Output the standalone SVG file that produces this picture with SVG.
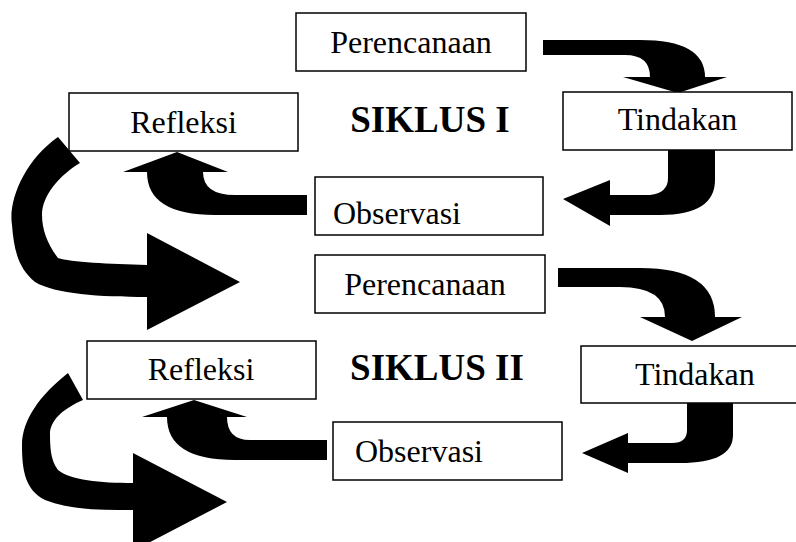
<svg xmlns="http://www.w3.org/2000/svg" width="796" height="542" viewBox="0 0 796 542">
<style>
.box{fill:#fff;stroke:#000;stroke-width:1.5}
.t{font-family:"Liberation Serif","Times New Roman",serif;font-size:32px;fill:#000}
.c{text-anchor:middle}
.h{font-family:"Liberation Serif","Times New Roman",serif;font-size:37px;font-weight:bold;fill:#000;text-anchor:middle}
.arr{fill:#000;stroke:none}
</style>
<rect width="796" height="542" fill="#fff"/>
<g id="connectors">
<path class="arr" d="M543,40 L640,40 Q705,40 705,77 L727,77 L678,93 L623,77 L650,77 Q650,55 625,55 L543,55 Z"/>
<path class="arr" d="M668,150 L715,150 L715,180 Q715,215 660,215 L610,215 L610,226 L563,199 L610,180 L610,195 L650,195 Q668,193 668,178 Z"/>
<path class="arr" d="M307,195 L235,195 Q203,195 203,172 L228,172 L177,152 L123,172 L147,172 Q147,215 215,215 L307,215 Z"/>
<path class="arr" d="M58,137 C25,160 8,200 12,225 C14,250 18,268 35,282 C55,294 100,297 147,297 L147,330 L240,282 L147,233 L147,265 C110,264 70,262 58,258 C48,245 42,230 42,215 C42,195 60,175 80,163 Z"/>
<path class="arr" d="M558,268 L640,268 Q715,268 715,317 L742,317 L692,341 L640,317 L665,317 Q665,287 620,287 L558,287 Z"/>
<path class="arr" d="M687,403 L733,403 L733,435 Q733,463 680,463 L628,463 L628,473 L582,453 L628,433 L628,443 L672,443 Q687,443 687,430 Z"/>
<path class="arr" d="M327,440 L250,440 Q227,440 227,417 L247,417 L194,400 L142,417 L167,417 Q167,460 235,460 L327,460 Z"/>
<path class="arr" d="M68,373 C40,395 22,420 22,445 C22,470 25,490 45,500 C70,510 100,510 133,510 L133,551 L227,502 L133,453 L133,483 C100,483 70,480 58,470 C50,460 50,445 50,432 C52,418 65,408 83,400 Z"/>
</g>
<g id="perencanaan1"><rect class="box" x="296" y="13" width="230" height="58"/><text class="t c" x="411" y="53">Perencanaan</text></g>
<g id="refleksi1"><rect class="box" x="69" y="93" width="229" height="58"/><text class="t c" x="183.5" y="133">Refleksi</text></g>
<g id="tindakan1"><rect class="box" x="563" y="92" width="229" height="58"/><text class="t c" x="677.5" y="130">Tindakan</text></g>
<g id="observasi1"><rect class="box" x="315" y="177" width="228" height="58"/><text class="t" x="333" y="224">Observasi</text></g>
<g id="siklus1"><text class="h" x="430" y="132">SIKLUS I</text></g>
<g id="perencanaan2"><rect class="box" x="315" y="255" width="230" height="58"/><text class="t c" x="425" y="295">Perencanaan</text></g>
<g id="refleksi2"><rect class="box" x="87" y="341" width="229" height="58"/><text class="t c" x="201" y="380">Refleksi</text></g>
<g id="tindakan2"><rect class="box" x="581" y="346" width="229" height="57"/><text class="t" x="635" y="385">Tindakan</text></g>
<g id="observasi2"><rect class="box" x="333" y="422" width="229" height="58"/><text class="t" x="355" y="462">Observasi</text></g>
<g id="siklus2"><text class="h" x="437" y="380">SIKLUS II</text></g>
</svg>
